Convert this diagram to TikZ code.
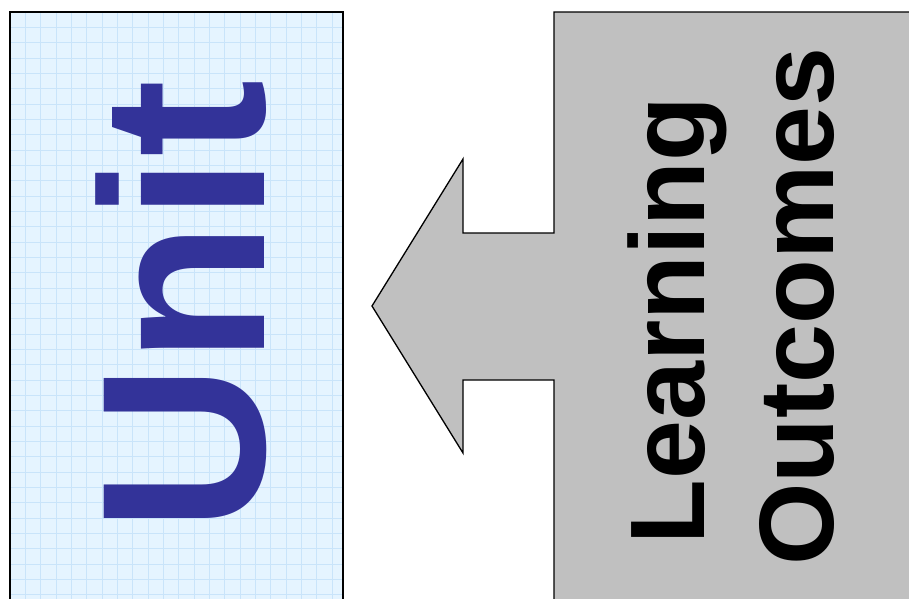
\documentclass[tikz,border=0pt]{standalone}
\usepackage{fontspec}
\setmainfont{Liberation Sans}
\definecolor{unitblue}{HTML}{333399}
\definecolor{panelgray}{HTML}{C0C0C0}
\definecolor{gridbg}{HTML}{E5F4FF}
\definecolor{gridline}{HTML}{C9E4FA}
\tikzset{
  outline/.style={draw=black, line width=1.3pt, line join=miter},
  vtext/.style={rotate=90, anchor=base, inner sep=0pt},
  bigtext/.style={vtext, text=black, font=\fontsize{106}{127}\selectfont\bfseries},
  unittext/.style={vtext, text=unitblue, font=\fontsize{233}{233}\selectfont\bfseries},
  gridstroke/.style={draw=gridline, line width=0.7pt}
}
\begin{document}
\begin{tikzpicture}[x=1pt,y=-1pt]
\useasboundingbox (0,0) rectangle (909,598);
\clip (0,0) rectangle (909,598);
% left panel with grid
\fill[gridbg] (10,12) rectangle (343,620);
\begin{scope}
  \clip (10,12) rectangle (343,620);
  \foreach \i in {1,...,21} \draw[gridstroke] ({10+15.33*\i},12) -- ({10+15.33*\i},620);
  \foreach \j in {1,...,39} \draw[gridstroke] (10,{12+15.33*\j}) -- (343,{12+15.33*\j});
\end{scope}
\draw[outline] (10,620) -- (10,12) -- (343,12) -- (343,620);
% right panel merged with the arrow
\draw[outline, fill=panelgray] (554,620) -- (554,380) -- (463,380) -- (463,453) -- (372,306)
  -- (463,159) -- (463,233) -- (554,233) -- (554,12) -- (930,12) -- (930,620) -- cycle;
% texts
\node[unittext] (unit) at (264,306) {Unit};
\node[bigtext] (learning) at (704,320.5) {Learning};
\node[bigtext] (outcomes) at (833,306.5) {Outcomes};
\end{tikzpicture}
\end{document}
